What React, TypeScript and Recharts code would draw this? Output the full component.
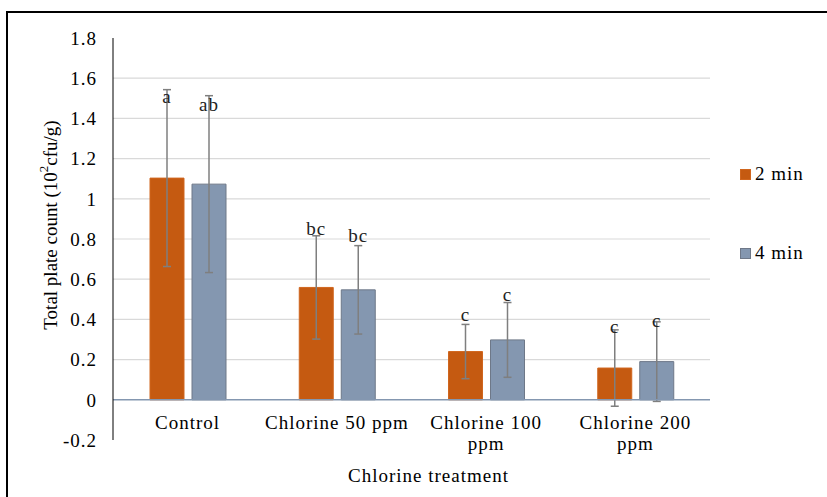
import React from 'react';
import {
  BarChart,
  Bar,
  XAxis,
  YAxis,
  ErrorBar,
  ReferenceLine,
  CartesianGrid,
  LabelList,
} from 'recharts';

// ---- data ----
const categories = ['Control', 'Chlorine 50 ppm', 'Chlorine 100\nppm', 'Chlorine 200\nppm'];
const mean2min = [1.103, 0.559, 0.24, 0.158];
const mean4min = [1.073, 0.547, 0.298, 0.19];
const err2min = [0.44, 0.257, 0.135, 0.19];
const err4min = [0.44, 0.22, 0.186, 0.198];
const letters2min = ['a', 'bc', 'c', 'c'];
const letters4min = ['ab', 'bc', 'c', 'c'];
const seriesNames = ['2 min', '4 min'];
const yTicks = [-0.2, 0, 0.2, 0.4, 0.6, 0.8, 1, 1.2, 1.4, 1.6, 1.8];
const gridValues = [0.2, 0.4, 0.6, 0.8, 1, 1.2, 1.4, 1.6];
const yTitleParts = ['Total plate count (10', '2', 'cfu/g)'];
const xTitle = 'Chlorine treatment';

// ---- styles ----
const FONT = '"Liberation Serif", "Times New Roman", serif';
const COLOR_2 = '#C55A11';
const COLOR_4 = '#8497B0';
const STROKE_2 = '#D0661E';
const STROKE_4 = '#6E7888';
const ERR_COLOR = '#7F7F7F';
// vertical nudge (px) of each letter relative to the error-bar top
const nudge2 = [7, -7, -10, -4];
const nudge4 = [9, -10, -8, -1];

const data = categories.map((c, i) => ({
  cat: c,
  m2: mean2min[i],
  m4: mean4min[i],
  e2: err2min[i],
  e4: err4min[i],
}));

const makeLetterLabel = (letters: string[], errs: number[], nudges: number[]) => (props: any) => {
  const { x, y, width, height, value, index } = props;
  const nx = Number(x), ny = Number(y), nw = Number(width), nh = Number(height), nv = Number(value);
  const pxPerUnit = nv !== 0 ? nh / nv : 0;
  const top = ny - errs[index] * pxPerUnit;
  return (
    <text
      x={nx + nw / 2}
      y={top + nudges[index]}
      dy="0.35em"
      textAnchor="middle"
      fontFamily={FONT}
      fontSize={19}
      fill="#222"
      style={{ letterSpacing: 1 }}
    >
      {letters[index]}
    </text>
  );
};

const XTick = (props: any) => {
  const { x, y, payload } = props;
  const lines = String(payload.value).split('\n');
  return (
    <text
      x={x}
      y={y}
      textAnchor="middle"
      fontFamily={FONT}
      fontSize={19}
      fill="#000"
      style={{ letterSpacing: 1 }}
    >
      {lines.map((l, i) => (
        <tspan key={i} x={x} dy={i === 0 ? -11 : 21}>
          {l}
        </tspan>
      ))}
    </text>
  );
};

const YTitle = (props: any) => {
  const vb = props.viewBox || { x: 0, y: 38, width: 113, height: 402 };
  const cx = vb.x + 50;
  const cy = vb.y + vb.height / 2 - 14;
  return (
    <text
      x={cx}
      y={cy}
      transform={`rotate(-90 ${cx} ${cy})`}
      textAnchor="middle"
      dominantBaseline="central"
      fontFamily={FONT}
      fontSize={19}
      fill="#000"
    >
      <tspan>{yTitleParts[0]}</tspan>
      <tspan fontSize={13} dy={-7}>{yTitleParts[1]}</tspan>
      <tspan dy={7}>{yTitleParts[2]}</tspan>
    </text>
  );
};

const LegendBox = () => {
  const colors = [COLOR_2, COLOR_4];
  const strokes = [STROKE_2, STROKE_4];
  return (
    <div style={{ position: 'absolute', left: 740, top: 160, fontFamily: FONT, fontSize: 19, color: '#000' }}>
      {seriesNames.map((n, i) => (
        <div key={n} style={{ display: 'flex', alignItems: 'center', height: 28, marginBottom: i === 0 ? 51 : 0, letterSpacing: 1 }}>
          <span style={{ display: 'inline-block', width: 11, height: 11, background: colors[i], boxShadow: `inset 0 0 0 1px ${strokes[i]}`, marginRight: 4 }} />
          <span>{n}</span>
        </div>
      ))}
    </div>
  );
};

export default function App() {
  return (
    <div style={{ position: 'fixed', left: 0, top: 0, width: 827, height: 497, overflow: 'hidden', background: '#fff' }}>
      <div style={{ position: 'absolute', left: 6, top: 11, width: 900, height: 600, border: '2px solid #000', boxSizing: 'border-box' }} />
      <div style={{ position: 'absolute', left: 0, top: 0 }}>
        <BarChart
          width={827}
          height={497}
          data={data}
          margin={{ top: 38, right: 117, left: 0, bottom: 0 }}
          barSize={34}
          barGap={8}
        >
          <CartesianGrid vertical={false} horizontalValues={gridValues} stroke="#D9D9D9" strokeWidth={1.2} />
          <XAxis
            dataKey="cat"
            axisLine={false}
            tickLine={false}
            tickSize={0}
            tickMargin={0}
            interval={0}
            height={57}
            tick={<XTick />}
            label={{
              value: xTitle,
              position: 'insideBottom',
              offset: 15,
              dx: 17,
              fontFamily: FONT,
              fontSize: 19,
              fill: '#000',
              style: { letterSpacing: 1 },
            }}
          />
          <YAxis
            width={113}
            domain={[-0.2, 1.8]}
            ticks={yTicks}
            interval={0}
            allowDataOverflow
            axisLine={{ stroke: '#000', strokeWidth: 1 }}
            tickLine={false}
            tickSize={0}
            tickMargin={16}
            tick={{ fontFamily: FONT, fontSize: 19, fill: '#000', style: { letterSpacing: 1 } } as any}
            label={<YTitle />}
          />
          <Bar dataKey="m2" name={seriesNames[0]} fill={COLOR_2} stroke={STROKE_2} strokeWidth={1} isAnimationActive={false}>
            <ErrorBar dataKey="e2" width={4} stroke={ERR_COLOR} strokeWidth={1.5} direction="y" />
            <LabelList dataKey="m2" content={makeLetterLabel(letters2min, err2min, nudge2)} />
          </Bar>
          <Bar dataKey="m4" name={seriesNames[1]} fill={COLOR_4} stroke={STROKE_4} strokeWidth={1} isAnimationActive={false}>
            <ErrorBar dataKey="e4" width={4} stroke={ERR_COLOR} strokeWidth={1.5} direction="y" />
            <LabelList dataKey="m4" content={makeLetterLabel(letters4min, err4min, nudge4)} />
          </Bar>
          <ReferenceLine y={0} stroke="#8497B0" strokeWidth={1.5} />
        </BarChart>
      </div>
      <LegendBox />
    </div>
  );
}
